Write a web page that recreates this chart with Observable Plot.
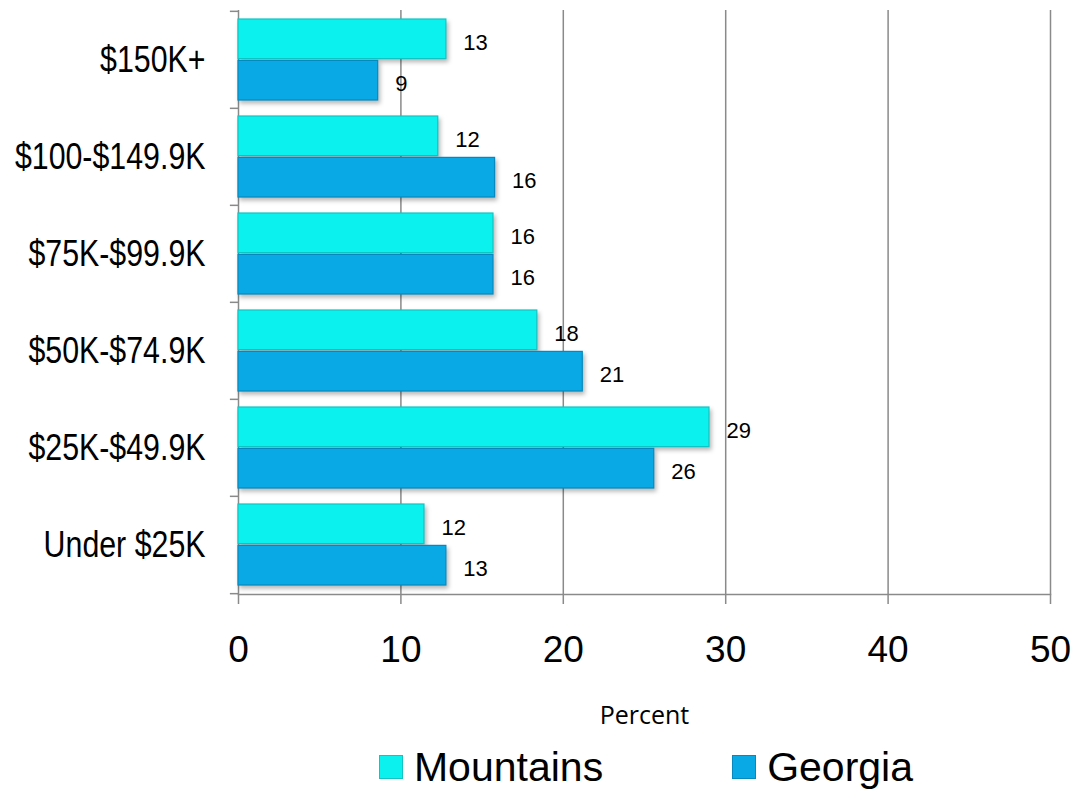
<!DOCTYPE html>
<html>
<head>
<meta charset="utf-8">
<script src="https://cdn.jsdelivr.net/npm/d3@7"></script>
<script src="https://cdn.jsdelivr.net/npm/@observablehq/plot@0.6"></script>
<style>
  body { margin: 0; background: #fff; }
  #chart svg { display: block; }
  #chart g[aria-label="bar"] rect { filter: drop-shadow(2px 3px 2px rgba(0,0,0,0.28)); }
  .legend { width: 1076px; height: 54px; box-sizing: border-box; padding-top: 10px; padding-left: 216px;
    display: flex; justify-content: center; align-items: center; font-family: "Liberation Sans", Arial, sans-serif; font-size: 41px; color: #000; }
  .legend .item { display: flex; align-items: center; }
  .legend .sw { width: 24px; height: 24px; box-sizing: border-box; margin-right: 11px; }
  .legend .item + .item { margin-left: 129px; }
</style>
</head>
<body>
<div id="chart"></div>
<div class="legend" id="legend"></div>
<script>
const categories = ["$150K+", "$100-$149.9K", "$75K-$99.9K", "$50K-$74.9K", "$25K-$49.9K", "Under $25K"];
const mountains = [12.8, 12.3, 15.7, 18.4, 29.0, 11.45];
const georgia = [8.6, 15.8, 15.7, 21.2, 25.6, 12.8];
const mountainsLabels = ["13", "12", "16", "18", "29", "12"];
const georgiaLabels = ["9", "16", "16", "21", "26", "13"];
const xTicks = [0, 10, 20, 30, 40, 50];
const gridTicks = [10, 20, 30, 40, 50];
const seriesNames = ["Mountains", "Georgia"];
const seriesColors = ["#0bf2ee", "#08a9e5"];
const seriesEdges = ["#12c4c4", "#0789bf"];

const W = 1076, H = 735, mTop = 10, mBottom = 141, mLeft = 238, mRight = 26;
const pInner = 0.17, pOuter = 0.085;
const step = (H - mTop - mBottom) / (categories.length - pInner + 2 * pOuter);
const bw = step * (1 - pInner);

const mData = categories.map((c, i) => ({cat: c, v: mountains[i], label: mountainsLabels[i]}));
const gData = categories.map((c, i) => ({cat: c, v: georgia[i], label: georgiaLabels[i]}));

const font = "'Liberation Sans', Arial, sans-serif";

const plot = Plot.plot({
  width: W, height: H,
  marginTop: mTop, marginBottom: mBottom, marginLeft: mLeft, marginRight: mRight,
  style: {fontFamily: font, background: "#fff"},
  x: {domain: [0, 50], axis: null},
  y: {domain: categories, paddingInner: pInner, paddingOuter: pOuter, axis: null},
  marks: [
    Plot.ruleX(gridTicks, {stroke: "#8a8a8a", strokeWidth: 1.5}),
    Plot.ruleX([0], {stroke: "#8a8a8a", strokeWidth: 1.5}),
    Plot.frame({anchor: "bottom", stroke: "#8a8a8a", strokeWidth: 1.5}),
    Plot.ruleY(categories, {y: d => d, x1: -0.5, x2: 0, dy: -step / 2, stroke: "#8a8a8a", strokeWidth: 1.5}),
    Plot.ruleY([categories[categories.length - 1]], {y: d => d, x1: -0.5, x2: 0, dy: step / 2, stroke: "#8a8a8a", strokeWidth: 1.5}),
    Plot.barX(mData, {y: "cat", x: "v", fill: seriesColors[0], stroke: seriesEdges[0], strokeWidth: 1.2, insetBottom: bw / 2 + 1}),
    Plot.barX(gData, {y: "cat", x: "v", fill: seriesColors[1], stroke: seriesEdges[1], strokeWidth: 1.2, insetTop: bw / 2 + 1}),
    Plot.text(mData, {y: "cat", x: "v", text: "label", dx: 17, dy: -bw / 4 + 3.5, textAnchor: "start", fontSize: 22, fill: "#000", fontFamily: font}),
    Plot.text(gData, {y: "cat", x: "v", text: "label", dx: 17, dy: bw / 4 + 3.5, textAnchor: "start", fontSize: 22, fill: "#000", fontFamily: font}),
    Plot.axisY({tickSize: 0, tickPadding: 33, fontSize: 37, fontFamily: font, color: "#000", label: null}),
    Plot.axisX(xTicks, {ticks: xTicks, tickSize: 10, tickPadding: 31, fontSize: 37, fontFamily: font, stroke: "#8a8a8a", strokeWidth: 1.5, fill: "#000", label: null}),
    Plot.text(["Percent"], {frameAnchor: "bottom", text: d => d, lineAnchor: "top", dy: 112, fontSize: 25, fontFamily: "'Open Sans', sans-serif", fill: "#000"})
  ]
});
document.getElementById("chart").appendChild(plot);

// condense the category labels horizontally (the reference uses a narrow face)
plot.querySelectorAll('g[aria-label="y-axis tick label"] text').forEach(t => {
  const tr = t.getAttribute("transform") || "";
  t.setAttribute("transform", tr + " scale(0.82,1)");
});

const legend = document.getElementById("legend");
seriesNames.forEach((name, i) => {
  const item = document.createElement("div");
  item.className = "item";
  const sw = document.createElement("div");
  sw.className = "sw";
  sw.style.background = seriesColors[i];
  sw.style.border = "1px solid " + seriesEdges[i];
  const t = document.createElement("span");
  t.textContent = name;
  item.appendChild(sw);
  item.appendChild(t);
  legend.appendChild(item);
});
</script>
</body>
</html>
